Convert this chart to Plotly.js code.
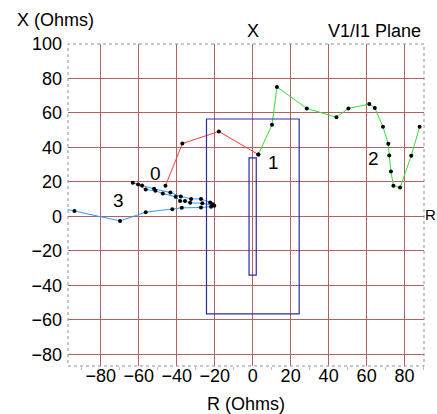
<!DOCTYPE html>
<html>
<head>
<meta charset="utf-8">
<script src="https://cdn.plot.ly/plotly-3.0.1.min.js"></script>
<style>
html,body{margin:0;padding:0;background:#fff;}
#chart{width:437px;height:414px;}
</style>
</head>
<body>
<div id="chart"></div>
<script>
// Series 0 (red)
const r0 = [-45.9, -37.0, -17.8, 3.0];
const x0 = [17.8, 42.3, 49.3, 35.9];
// Series 1 (green)
const r1 = [3.0, 10.2, 12.8, 28.5, 44.1, 50.4, 61.4, 64.3, 68.6, 71.4, 71.9, 72.8, 74.1, 77.6, 83.5, 87.9];
const x1 = [35.9, 53.2, 75.1, 62.6, 57.6, 62.6, 65.2, 62.9, 52.0, 42.1, 35.4, 26.1, 17.8, 16.8, 35.2, 52.0];
// Series 3 (blue)
const r3 = [-99, -93.8, -69.8, -56.3, -42.3, -37.3, -27.2, -21.9, -21.0, -22.4, -27.2, -32.4, -37.8, -43.3, -51.9, -58.2, -63.1, -60.3, -56.3, -51.2, -47.3, -40.5, -38.2, -35.6, -32.9, -26.5, -20.2];
const x3 = [4.4, 3.1, -2.6, 2.5, 4.2, 5.0, 5.2, 5.7, 7.1, 8.1, 10.2, 10.2, 11.6, 13.9, 16.0, 17.9, 19.5, 18.5, 15.6, 14.9, 13.3, 11.4, 8.9, 8.9, 7.9, 7.7, 6.2];
// Zone rectangles [r0, r1, x0, x1]
const zoneOuter = [-24.3, 24.5, -56.5, 56.5];
const zoneInner = [-1.9, 1.9, -34.0, 34.0];
// Series labels
const labelText = ["0", "1", "2", "3"];
const labelR = [-51.3, 10.9, 63.4, -70.5];
const labelX = [25.1, 31.5, 33.8, 9.2];

const FONT = "Liberation Sans, Arial, sans-serif";
const markerStyle = {color: "#000", size: 4};

const traces = [
  {x: r0, y: x0, mode: "lines+markers", line: {color: "#ff3b3b", width: 1}, marker: markerStyle, hoverinfo: "none"},
  {x: r1, y: x1, mode: "lines+markers", line: {color: "#33e033", width: 1}, marker: markerStyle, hoverinfo: "none"},
  {x: r3, y: x3, mode: "lines+markers", line: {color: "#3399ff", width: 1}, marker: markerStyle, hoverinfo: "none"}
];

function rectShape(z) {
  return {type: "rect", xref: "x", yref: "y", x0: z[0], x1: z[1], y0: z[2], y1: z[3],
          line: {color: "#2b2ba6", width: 1.2}, fillcolor: "rgba(0,0,0,0)", layer: "above"};
}

const annotations = labelText.map((t, i) => ({
  x: labelR[i], y: labelX[i], xref: "x", yref: "y", text: t, showarrow: false,
  font: {family: FONT, size: 19, color: "#000"}
}));

function pa(text, x, y, xa, ya, size) {
  return {text: text, xref: "paper", yref: "paper", x: x, y: y, xanchor: xa, yanchor: ya,
          showarrow: false, borderpad: 0, font: {family: FONT, size: size, color: "#000"}};
}
annotations.push(pa("X (Ohms)", -0.146, 1.0745, "left", "middle", 18));
annotations.push(pa("X", 0.5197, 1.04, "center", "middle", 18));
annotations.push(pa("V1/I1 Plane", 0.994, 1.04, "right", "middle", 18));
annotations.push(pa("R (Ohms)", 0.499, -0.118, "center", "middle", 18));
annotations.push(pa("R", 1.0, 0.469, "left", "middle", 15));

const shapes = [rectShape(zoneOuter), rectShape(zoneInner),
  {type: "rect", xref: "paper", yref: "paper", x0: 0, x1: 1, y0: 0, y1: 1,
   line: {color: "#909090", width: 1, dash: "dot"}, fillcolor: "rgba(0,0,0,0)", layer: "above"}];

const gridColor = "#b06262";
const layout = {
  width: 437, height: 414,
  margin: {l: 68, r: 13, t: 44, b: 48},
  paper_bgcolor: "#fff", plot_bgcolor: "#fff",
  showlegend: false,
  font: {family: FONT, size: 18, color: "#000"},
  xaxis: {range: [-97.2, 90.2], dtick: 20, tick0: 0, showgrid: true, gridcolor: gridColor, gridwidth: 1,
          zeroline: false, showline: false, ticks: "", ticklabelstandoff: -3,
          minor: {dtick: 10, ticks: "outside", ticklen: 3, tickcolor: "#e8b0b0", showgrid: false},
          tickfont: {family: FONT, size: 18, color: "#000"}},
  yaxis: {range: [-86.7, 100], dtick: 20, tick0: 0, showgrid: true, gridcolor: gridColor, gridwidth: 1,
          zeroline: false, showline: false, ticks: "", ticklabelstandoff: 5,
          tickfont: {family: FONT, size: 18, color: "#000"}},
  shapes: shapes,
  annotations: annotations
};

Plotly.newPlot("chart", traces, layout, {staticPlot: true, displayModeBar: false});
</script>
</body>
</html>
